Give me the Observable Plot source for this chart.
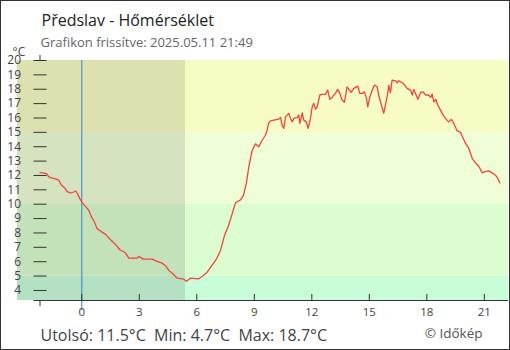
<!DOCTYPE html>
<html>
<head>
<meta charset="utf-8">
<script src="https://cdn.jsdelivr.net/npm/d3@7"></script>
<script src="https://cdn.jsdelivr.net/npm/@observablehq/plot@0.6"></script>
<style>
  html, body { margin: 0; padding: 0; background: #fff; }
  #chart svg { display: block; outline: 1px solid #333; outline-offset: -1px; }
</style>
</head>
<body>
<div id="chart"></div>
<script>
// Hours relative to midnight 2025-05-11 (negative = previous evening)
const hours = [
  -2.18, -2.05, -1.84, -1.72, -1.60, -1.37, -1.20, -1.07, -0.89, -0.76, -0.59, -0.42, -0.31, -0.24, -0.10,
  0.02, 0.19, 0.37, 0.51, 0.66, 0.80, 0.98, 1.24, 1.50, 1.76, 1.98, 2.28, 2.45, 2.89, 2.97,
  3.20, 3.67, 3.93, 4.19, 4.37, 4.54, 4.72, 4.98, 5.32, 5.46, 5.67, 6.10, 6.28, 6.54, 6.71,
  7.03, 7.24, 7.44, 7.65, 7.86, 8.02, 8.28, 8.43, 8.59, 8.70, 8.80, 8.89, 9.06, 9.23, 9.41,
  9.58, 9.67, 9.75, 9.84, 10.02, 10.28, 10.37, 10.45, 10.54, 10.63, 10.80, 10.89, 10.98, 11.06, 11.24,
  11.32, 11.38, 11.50, 11.58, 11.71, 11.81, 11.93, 12.02, 12.10, 12.19, 12.28, 12.42, 12.54, 12.71, 12.83,
  12.94, 13.06, 13.15, 13.23, 13.35, 13.46, 13.58, 13.70, 13.84, 13.93, 14.05, 14.19, 14.40, 14.50, 14.63,
  14.75, 14.85, 14.92, 15.02, 15.15, 15.27, 15.41, 15.49, 15.58, 15.75, 15.89, 15.96, 16.01, 16.10, 16.19,
  16.36, 16.45, 16.54, 16.63, 16.80, 16.97, 17.15, 17.24, 17.32, 17.41, 17.53, 17.67, 17.81, 17.93, 18.10,
  18.19, 18.28, 18.36, 18.47, 18.57, 18.71, 18.85, 18.97, 19.14, 19.27, 19.41, 19.58, 19.75, 19.90, 20.02,
  20.19, 20.37, 20.54, 20.71, 20.89, 21.06, 21.23, 21.41, 21.58, 21.70, 21.81
];
const temps = [
  12.2, 12.18, 12.13, 11.9, 11.83, 11.76, 11.67, 11.34, 11.13, 10.88, 10.78, 10.85, 10.92, 10.78, 10.39,
  10.11, 9.85, 9.57, 9.1, 8.76, 8.30, 8.13, 7.9, 7.53, 7.2, 6.83, 6.62, 6.25, 6.25, 6.37,
  6.18, 6.18, 6.02, 5.9, 5.72, 5.39, 5.2, 4.85, 4.78, 4.64, 4.85, 4.81, 4.97, 5.27, 5.58,
  6.2, 6.8, 7.8, 8.5, 9.4, 10.1, 10.3, 10.6, 11.5, 12.5, 13.18, 13.76, 14.2, 14.0, 14.45,
  14.8, 15.15, 15.66, 15.8, 15.85, 15.92, 16.04, 15.5, 15.27, 16.08, 16.32, 15.97, 15.73, 15.97, 16.04,
  16.2, 15.62, 16.36, 15.85, 15.73, 15.27, 15.97, 16.78, 17.02, 16.6, 16.78, 17.6, 17.64, 17.64, 17.94,
  17.3, 17.43, 17.6, 17.71, 17.99, 17.71, 17.25, 17.09, 18.17, 18.01, 17.78, 18.06, 18.22, 17.71, 17.71,
  17.82, 17.36, 16.78, 17.43, 17.94, 18.29, 18.17, 17.6, 17.13, 16.32, 17.25, 17.71, 18.29, 17.76, 18.64,
  18.59, 18.45, 18.59, 18.52, 18.36, 18.06, 17.94, 17.6, 17.99, 17.71, 17.3, 17.76, 17.82, 17.6, 17.6,
  17.43, 17.66, 17.13, 17.3, 16.9, 16.55, 16.2, 15.97, 15.73, 15.9, 15.62, 15.1, 15.01, 14.57, 14.23,
  13.88, 13.18, 12.87, 12.64, 12.18, 12.29, 12.32, 12.18, 12.02, 11.79, 11.48
];

const xTicks = [0, 3, 6, 9, 12, 15, 18, 21];
const yTicks = [4, 5, 6, 7, 8, 9, 10, 11, 12, 13, 14, 15, 16, 17, 18, 19, 20];
const bandLows = [3.3, 5, 10, 15];
const bandHighs = [5, 10, 15, 20];
const bandColors = ["#c9fcd9", "#dcfdd0", "#f0fed8", "#f7fcc4"];
const sunrise = 5.41;
const dataStart = -2.18;
const xDomain = [-3.354, 22.26];
const yDomain = [3.3, 20];

const titleText = "Předslav - Hőmérséklet";
const subtitleText = "Grafikon frissítve: 2025.05.11 21:49";
const unitText = "°C";
const statsText = "Utolsó: 11.5°C\u00a0 Min: 4.7°C\u00a0 Max: 18.7°C";
const creditText = "© Időkép";

const series = hours.map((h, i) => ({h, t: temps[i]}));
const bands = bandLows.map((lo, i) => ({lo, hi: bandHighs[i], c: bandColors[i]}));

const plot = Plot.plot({
  width: 510,
  height: 350,
  marginLeft: 17,
  marginRight: 2,
  marginTop: 60,
  marginBottom: 50,
  style: {fontFamily: "'Open Sans', sans-serif", background: "#fff"},
  x: {domain: xDomain, axis: null},
  y: {domain: yDomain, axis: null},
  marks: [
    // start-of-window marker (peeks above and below the bands)
    Plot.ruleX([dataStart], {stroke: "#333", insetTop: -5, insetBottom: -6}),
    Plot.rect(bands, {y1: "lo", y2: "hi", fill: "c"}),
    Plot.rect([{a: xDomain[0], b: sunrise}], {x1: "a", x2: "b", fill: "#000", fillOpacity: 0.105}),
    // y tick marks
    Plot.ruleY(yTicks, {y: d => d, x1: () => dataStart, x2: () => dataStart, insetLeft: -6, insetRight: -7, stroke: "#333"}),
    Plot.text(yTicks, {y: d => d, text: d => String(d), frameAnchor: "left", textAnchor: "end", dx: 3.5, fill: "#444", fontSize: 12}),
    // midnight line
    Plot.ruleX([0], {stroke: "#3283c8", insetBottom: -10}),
    // x axis line and ticks
    Plot.ruleY([yDomain[0]], {x1: () => dataStart, x2: () => xDomain[1], insetLeft: -6, stroke: "#333"}),
    Plot.ruleX(xTicks, {x: d => d, y1: () => yDomain[0], y2: () => yDomain[0], insetTop: -6, stroke: "#333"}),
    Plot.text(xTicks, {x: d => d, text: d => String(d), frameAnchor: "bottom", dy: 15, fill: "#444", fontSize: 11.5}),
    // temperature line
    Plot.line(series, {x: "h", y: "t", stroke: "#f4433a", strokeWidth: 1.3}),
    // texts
    Plot.text([titleText], {text: d => d, frameAnchor: "top-left", textAnchor: "start", lineAnchor: "bottom", dx: 24, dy: -35, fontSize: 16, fill: "#222"}),
    Plot.text([subtitleText], {text: d => d, frameAnchor: "top-left", textAnchor: "start", lineAnchor: "bottom", dx: 23, dy: -14, fontSize: 13, fill: "#666"}),
    Plot.text([unitText], {text: d => d, frameAnchor: "top-left", textAnchor: "start", lineAnchor: "bottom", dx: -5, dy: -5, fontSize: 12, fill: "#444"}),
    Plot.text([statsText], {text: d => d, frameAnchor: "bottom-left", textAnchor: "start", lineAnchor: "bottom", dx: 23, dy: 40, fontSize: 16, fill: "#444"}),
    Plot.text([creditText], {text: d => d, frameAnchor: "bottom-right", textAnchor: "end", lineAnchor: "bottom", dx: -26, dy: 37, fontSize: 13.5, fill: "#555"})
  ]
});
document.getElementById("chart").appendChild(plot);
</script>
</body>
</html>
